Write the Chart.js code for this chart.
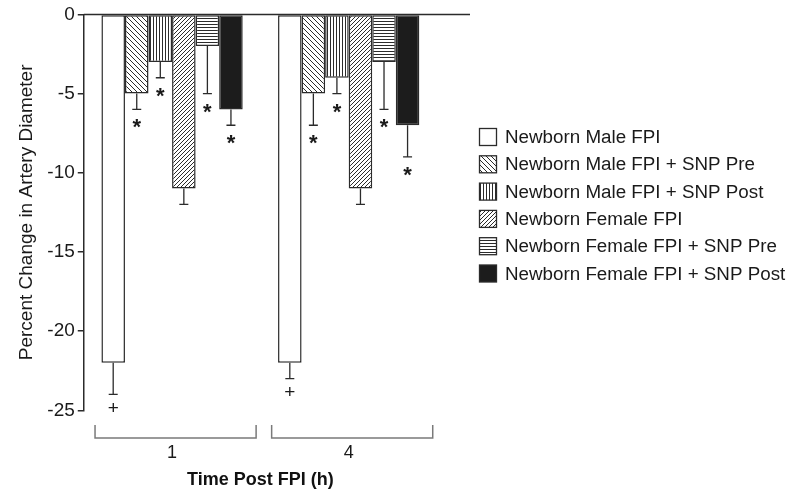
<!DOCTYPE html>
<html>
<head>
<meta charset="utf-8">
<script src="https://cdn.jsdelivr.net/npm/chart.js@4.4.1/dist/chart.umd.min.js"></script>
<style>
  html, body { margin: 0; padding: 0; background: #fff; }
  #wrap { width: 800px; height: 502px; position: relative; }
</style>
</head>
<body>
<div id="wrap"><canvas id="chart"></canvas></div>
<script>
// --- DATA ---
const timePoints = ['1', '4'];
const seriesLabels = [
    'Newborn Male FPI',
    'Newborn Male FPI + SNP Pre',
    'Newborn Male FPI + SNP Post',
    'Newborn Female FPI',
    'Newborn Female FPI + SNP Pre',
    'Newborn Female FPI + SNP Post'
];
const maleFpi = [-22, -22];
const maleSnpPre = [-5, -5];
const maleSnpPost = [-3, -4];
const femaleFpi = [-11, -11];
const femaleSnpPre = [-2, -3];
const femaleSnpPost = [-6, -7];

// error bars (drawn downward only)
const maleFpiErr = [2, 1];
const maleSnpPreErr = [1, 2];
const maleSnpPostErr = [1, 1];
const femaleFpiErr = [1, 1];
const femaleSnpPreErr = [3, 3];
const femaleSnpPostErr = [1, 2];

// significance marks under the error bars
const maleFpiMarks = ['+', '+'];
const maleSnpPreMarks = ['*', '*'];
const maleSnpPostMarks = ['*', '*'];
const femaleFpiMarks = ['', ''];
const femaleSnpPreMarks = ['*', '*'];
const femaleSnpPostMarks = ['*', '*'];

const yTicks = [0, -5, -10, -15, -20, -25];

// --- STYLE ---
const ink = '#2b2b2b';
const fontFamily = '"Liberation Sans", Arial, Helvetica, sans-serif';

const makePattern = (kind) => {
    const sizes = { plain: 4, back: 5, fwd: 4, vert: 3, horiz: 3, solid: 4 };
    const s = sizes[kind];
    const c = document.createElement('canvas');
    c.width = s; c.height = s;
    const g = c.getContext('2d');
    g.fillStyle = kind === 'solid' ? '#1c1c1c' : '#fff';
    g.fillRect(0, 0, s, s);
    g.strokeStyle = ink;
    g.lineWidth = 1;
    g.beginPath();
    if (kind === 'vert') {
        g.moveTo(0.5, 0); g.lineTo(0.5, s);
    } else if (kind === 'horiz') {
        g.moveTo(0, 0.5); g.lineTo(s, 0.5);
    } else if (kind === 'back') {
        for (const o of [-s, 0, s]) { g.moveTo(o, 0); g.lineTo(o + s, s); }
    } else if (kind === 'fwd') {
        for (const o of [-s, 0, s]) { g.moveTo(o, s); g.lineTo(o + s, 0); }
    }
    g.stroke();
    return g.createPattern(c, 'repeat');
};

const fills = ['plain', 'back', 'vert', 'fwd', 'horiz', 'solid'].map(makePattern);
const seriesValues = [maleFpi, maleSnpPre, maleSnpPost, femaleFpi, femaleSnpPre, femaleSnpPost];
const seriesErrors = [maleFpiErr, maleSnpPreErr, maleSnpPostErr, femaleFpiErr, femaleSnpPreErr, femaleSnpPostErr];
const seriesMarks = [maleFpiMarks, maleSnpPreMarks, maleSnpPostMarks, femaleFpiMarks, femaleSnpPreMarks, femaleSnpPostMarks];

// --- PLUGIN: zero line, error bars, marks, brackets, legend ---
const extras = {
    id: 'extras',
    afterDatasetsDraw(chart) {
        const { ctx, scales: { x, y }, chartArea } = chart;
        ctx.save();
        ctx.strokeStyle = ink;
        ctx.lineWidth = 1.5;

        // zero line running past the plot
        const y0 = y.getPixelForValue(0);
        ctx.beginPath();
        ctx.moveTo(chartArea.left, y0);
        ctx.lineTo(470, y0);
        ctx.stroke();

        // error bars + marks
        ctx.fillStyle = '#1a1a1a';
        ctx.textAlign = 'center';
        ctx.textBaseline = 'middle';
        seriesValues.forEach((vals, i) => {
            const meta = chart.getDatasetMeta(i);
            meta.data.forEach((bar, j) => {
                const top = y.getPixelForValue(vals[j]);
                const end = y.getPixelForValue(vals[j] - seriesErrors[i][j]);
                ctx.lineWidth = 1.3;
                ctx.beginPath();
                ctx.moveTo(bar.x, top);
                ctx.lineTo(bar.x, end);
                ctx.moveTo(bar.x - 4.5, end);
                ctx.lineTo(bar.x + 4.5, end);
                ctx.stroke();
                const m = seriesMarks[i][j];
                if (m === '*') {
                    ctx.font = 'bold 22px ' + fontFamily;
                    ctx.fillText(m, bar.x, end + 19);
                } else if (m === '+') {
                    ctx.font = '19px ' + fontFamily;
                    ctx.fillText(m, bar.x, end + 14);
                }
            });
        });

        // group brackets under the categories
        ctx.strokeStyle = '#7a7a7a';
        ctx.lineWidth = 1.5;
        const half = (chartArea.right - chartArea.left) / timePoints.length * 0.456;
        timePoints.forEach((t, j) => {
            const cx = x.getPixelForValue(j) + 3.5;
            ctx.beginPath();
            ctx.moveTo(cx - half, 425);
            ctx.lineTo(cx - half, 438);
            ctx.lineTo(cx + half, 438);
            ctx.lineTo(cx + half, 425);
            ctx.stroke();
        });

        // legend
        ctx.textAlign = 'left';
        ctx.font = '18.8px ' + fontFamily;
        seriesLabels.forEach((label, i) => {
            const cy = 137 + i * 27.3;
            ctx.fillStyle = fills[i];
            ctx.fillRect(479.5, cy - 8.5, 17, 17);
            ctx.strokeStyle = ink;
            ctx.lineWidth = 1.3;
            ctx.strokeRect(479.5, cy - 8.5, 17, 17);
            ctx.fillStyle = '#1a1a1a';
            ctx.fillText(label, 505, cy + 1);
        });
        ctx.restore();
    }
};

const datasets = seriesLabels.map((label, i) => ({
    label,
    data: seriesValues[i],
    backgroundColor: fills[i],
    borderColor: ink,
    borderWidth: 1.5,
    borderSkipped: false,
    categoryPercentage: 0.8,
    barPercentage: 1
}));

new Chart(document.getElementById('chart'), {
    type: 'bar',
    data: { labels: timePoints, datasets },
    options: {
        responsive: true,
        maintainAspectRatio: false,
        animation: false,
        events: [],
        layout: { padding: { top: 12, right: 363, bottom: 5, left: 10 } },
        plugins: {
            legend: { display: false },
            tooltip: { enabled: false }
        },
        scales: {
            x: {
                grid: { display: false, drawTicks: false },
                border: { display: false },
                ticks: { color: '#1a1a1a', font: { family: fontFamily, size: 18 }, padding: 32 },
                title: {
                    display: true,
                    text: 'Time Post FPI (h)',
                    color: '#111',
                    font: { family: fontFamily, size: 18, weight: 'bold' },
                    padding: { top: -26.5, bottom: 6 }
                }
            },
            y: {
                min: yTicks[yTicks.length - 1],
                max: yTicks[0],
                afterBuildTicks: (axis) => { axis.ticks = yTicks.map(v => ({ value: v })); },
                grid: { drawOnChartArea: false, drawTicks: true, tickLength: 6, color: ink, lineWidth: 1.5 },
                border: { color: ink, width: 1.5 },
                ticks: { color: '#1a1a1a', font: { family: fontFamily, size: 19 }, padding: 3 },
                title: {
                    display: true,
                    text: 'Percent Change in Artery Diameter',
                    color: '#1a1a1a',
                    font: { family: fontFamily, size: 19 },
                    padding: { top: 5.5, bottom: 6 }
                }
            }
        }
    },
    plugins: [extras]
});
</script>
</body>
</html>
